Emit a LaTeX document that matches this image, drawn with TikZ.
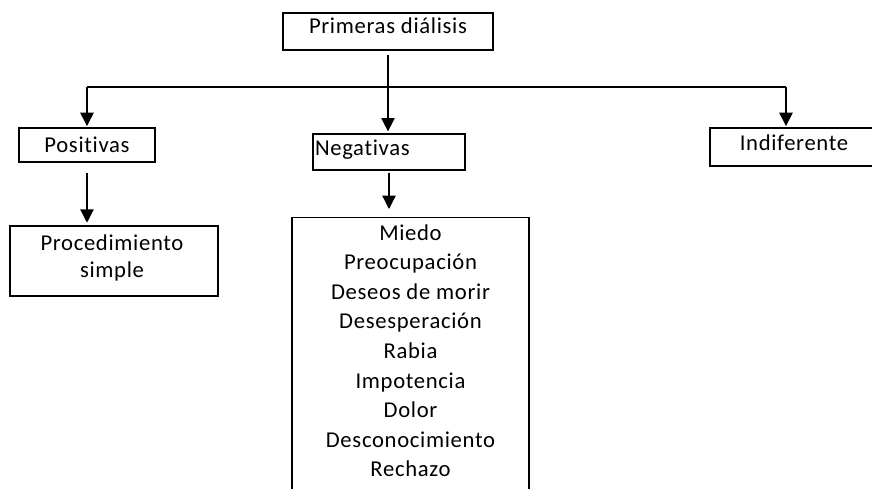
\documentclass[tikz,border=0pt]{standalone}
\usepackage{fontspec}
\setmainfont{Carlito}[Ligatures={NoCommon}, LetterSpace=3]
\usetikzlibrary{arrows.meta}

\tikzset{every picture/.style={line width=0.9pt}}
\tikzset{
  box/.style={draw, inner sep=1.5pt, font=\fontsize{17}{20}\selectfont},
  word/.style={anchor=base, inner sep=0pt, font=\fontsize{17}{20}\selectfont},
  conn/.style={-{Triangle[width=10pt,length=10pt]}}
}

\begin{document}
\begin{tikzpicture}[x=0.75pt,y=0.75pt,yscale=-1,xscale=1]
\useasboundingbox (0,0) rectangle (872,489);

% Boxes
\node[box, minimum width=157.5pt, minimum height=27.75pt, text height=12pt, text depth=9.5pt] (first) at (388,31.5) {Primeras diálisis};
\node[box, minimum width=102pt, minimum height=25.5pt] (pos) at (87,145) {Positivas};
\node[box, minimum width=114pt, minimum height=27pt, text width=111pt, align=left, text height=12pt, text depth=7pt] (neg) at (389,152) {Negativas};
\node[box, minimum width=126pt, minimum height=28.5pt, text height=12pt, text depth=7pt] (indif) at (794,147) {Indiferente};
\node[box, minimum width=156pt, minimum height=52.5pt] (proc) at (114,261) {};
\node[box, minimum width=177.75pt, minimum height=212pt, anchor=north] (feel) at (410.5,217) {};

% Text Node
\node[word] (proc1) at (112,250) {Procedimiento};
\node[word] (proc2) at (112,277) {simple};
\foreach \w [count=\i] in {Miedo, Preocupación, Deseos de morir, Desesperación, Rabia, Impotencia, Dolor, Desconocimiento, Rechazo}
  \node[word] (feel\i) at (410.5,{240+29.6*(\i-1)}) {\w};

% Connectors
\coordinate (busL) at (87,87);
\coordinate (busR) at (786,87);
\draw (busL) -- (busR);
\draw[conn, shorten <=3.5pt, shorten >=1.5pt] (first.south) -- (first.south |- neg.north);
\draw[conn, shorten >=1pt] (busL) -- (pos.north);
\draw[conn, shorten >=1pt] (busR) -- (busR |- indif.north);
\draw[conn, shorten <=7.5pt, shorten >=2pt] (pos.south) -- (pos.south |- proc.north);
\draw[conn, shorten <=1.5pt, shorten >=6pt] (neg.south) -- (neg.south |- feel.north);

\end{tikzpicture}
\end{document}
